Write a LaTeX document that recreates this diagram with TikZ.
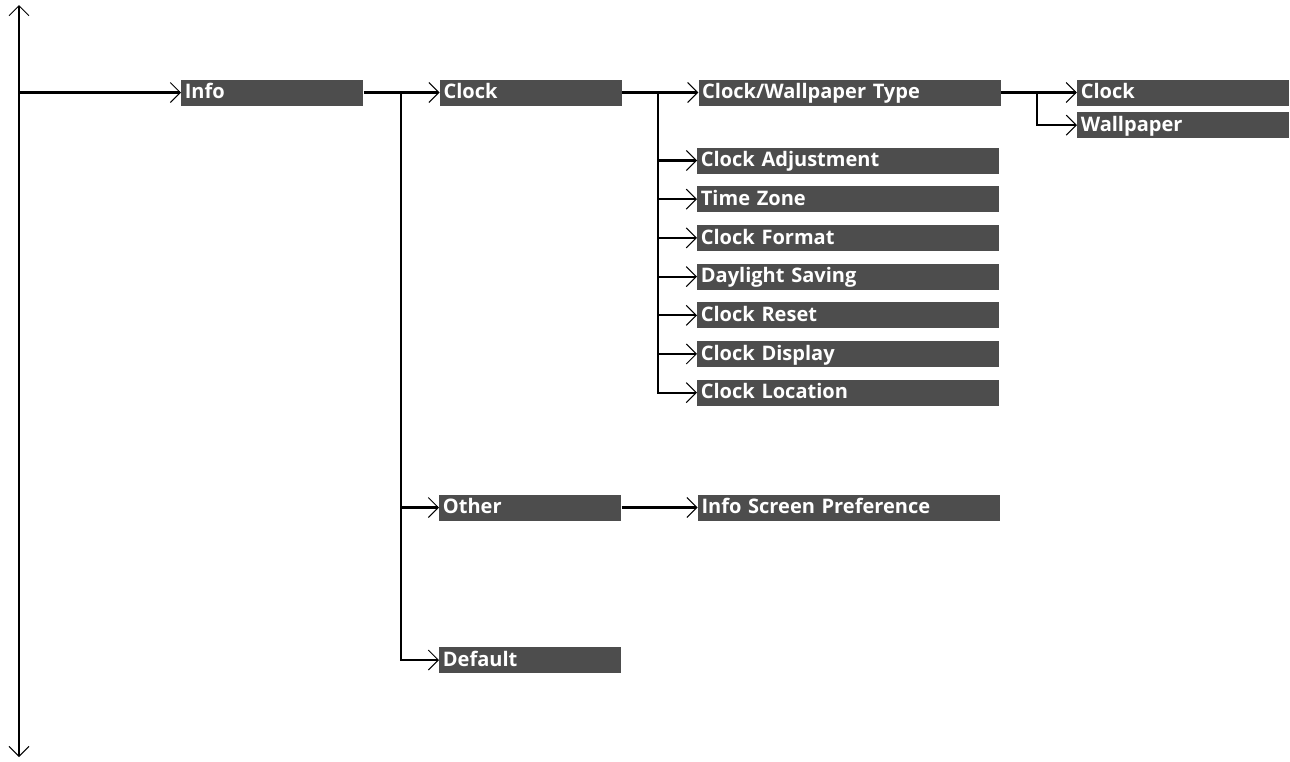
\documentclass[tikz,border=0pt]{standalone}
\usepackage{fontspec}
\setmainfont{Open Sans}[BoldFont={Open Sans Bold}]
\usetikzlibrary{arrows.meta,positioning}
\definecolor{menugray}{HTML}{4D4D4D}

\begin{document}
\begin{tikzpicture}[
  x=0.02cm, y=-0.02cm,
  font=\bfseries\fontsize{11.4}{13}\selectfont,
  node distance=0.24cm and 1.52cm,
  item/.style={fill=menugray, text=white, anchor=west, minimum height=0.52cm, inner xsep=2pt, inner ysep=0pt, text height=0.72em, text depth=0.02em, align=left},
  lvla/.style={item, text width=3.64cm-4pt},
  lvlb/.style={item, text width=6.04cm-4pt},
  lvlc/.style={item, text width=4.24cm-4pt},
  flow/.style={-{Straight Barb[length=0.2cm, width=0.4cm, line width=0.6pt]}, line width=1.2pt},
  spine/.style={{Straight Barb[length=0.2cm, width=0.4cm, line width=0.6pt]}-{Straight Barb[length=0.2cm, width=0.4cm, line width=0.6pt]}, line width=1.2pt}
]
\useasboundingbox (0,0) rectangle (1290,761);

% left scroll line
\coordinate (top) at (19,5);
\coordinate (bot) at (19,757);
\draw[spine] (top) -- (bot);

\node[lvla] (info) at (181,92.5) {Info};
\node[lvla, right=of info] (clock) {Clock};
\node[lvla, anchor=west] (other) at (439,507.5) {Other};
\node[lvla, anchor=west] (default) at (439,660) {Default};

\node[lvlb, right=of clock] (cwtype) {Clock/Wallpaper Type};
\node[lvlb, anchor=west] (adjust) at (697,160.5) {Clock Adjustment};
\node[lvlb, below=of adjust] (zone) {Time Zone};
\node[lvlb, below=of zone] (format) {Clock Format};
\node[lvlb, below=of format] (daylight) {Daylight Saving};
\node[lvlb, below=of daylight] (reset) {Clock Reset};
\node[lvlb, below=of reset] (display) {Clock Display};
\node[lvlb, below=of display] (location) {Clock Location};
\node[lvlb, right=of other] (screenpref) {Info Screen Preference};

\node[lvlc, right=of cwtype] (clocktype) {Clock};
\node[lvlc, below=0.12cm of clocktype] (wallpaper) {Wallpaper};

% junction points
\coordinate (j1) at ([xshift=0.74cm]info.east);
\coordinate (j2) at ([xshift=0.72cm]clock.east);
\coordinate (j3) at ([xshift=0.72cm]cwtype.east);

\draw[flow] (info.west -| top) -- (info.west);
\draw[flow] (info.east) -- (clock.west);
\draw[flow] (j1) |- (other.west);
\draw[flow] (j1) |- (default.west);
\draw[flow] (clock.east) -- (cwtype.west);
\foreach \n in {adjust,zone,format,daylight,reset,display,location}
  \draw[flow] (j2) |- (\n.west);
\draw[flow] (other.east) -- (screenpref.west);
\draw[flow] (cwtype.east) -- (clocktype.west);
\draw[flow] (j3) |- (wallpaper.west);
\end{tikzpicture}
\end{document}
